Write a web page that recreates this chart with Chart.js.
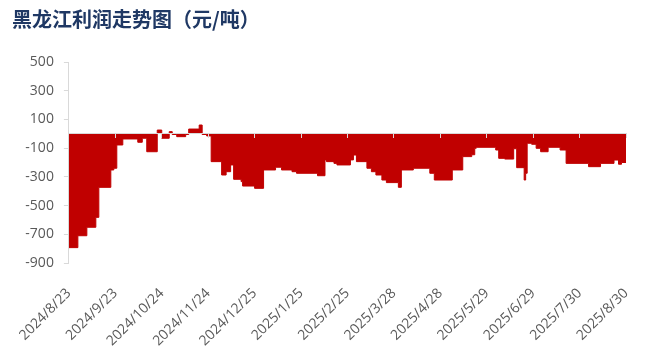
<!DOCTYPE html>
<html>
<head>
<meta charset="utf-8">
<script src="https://cdn.jsdelivr.net/npm/chart.js@4.4.1/dist/chart.umd.min.js"></script>
<style>
  html, body { margin: 0; padding: 0; background: #fff; }
</style>
</head>
<body>
<canvas id="profitChart" width="660" height="355"></canvas>
<script>
// date tick labels, one every 31 days starting 2024/8/23
const tickDates = ['2024/8/23', '2024/9/23', '2024/10/24', '2024/11/24', '2024/12/25', '2025/1/25',
    '2025/2/25', '2025/3/28', '2025/4/28', '2025/5/29', '2025/6/29', '2025/7/30', '2025/8/30'];

// day (counted from 2024/8/23) on which the profit changes, and the new value (元/吨)
const changeDay = [0, 6, 12, 18, 20, 28, 30, 32, 36, 46,
    49, 52, 59, 62, 67, 69, 72, 78, 80, 87,
    89, 92, 95, 102, 105, 108, 110, 115, 116, 124,
    130, 138, 142, 149, 152, 166, 171, 172, 177, 179,
    188, 190, 192, 199, 202, 205, 209, 212, 220, 222,
    230, 241, 244, 256, 263, 269, 271, 272, 285, 287,
    291, 297, 299, 304, 305, 306, 309, 312, 315, 320,
    328, 332, 347, 355, 364, 367, 369, 372];
const profit = [-793, -710, -651, -582, -373, -252, -240, -78, -36, -59,
    -31, -125, 26, -31, 15, -5, -20, -5, 33, 61,
    -5, -15, -194, -287, -264, -217, -317, -333, -364, -380,
    -252, -233, -252, -264, -275, -292, -182, -194, -206, -217,
    -182, -148, -194, -240, -264, -287, -322, -340, -373, -252,
    -240, -275, -322, -252, -159, -146, -101, -94, -113, -171,
    -176, -104, -236, -322, -275, -66, -73, -101, -125, -94,
    -113, -206, -229, -206, -183, -212, -200, -200];

const points = changeDay.map((d, i) => ({ x: d, y: profit[i] }));

const axisGray = '#d9d9d9';
const labelGray = '#595959';
const tickFont = { family: '"Open Sans", sans-serif', size: 14 };

const ctx = document.getElementById('profitChart').getContext('2d');
const profitChart = new Chart(ctx, {
    type: 'line',
    data: {
        datasets: [{
            data: points,
            xAxisID: 'x',
            stepped: true,
            fill: 'origin',
            backgroundColor: '#C00000',
            borderColor: '#C00000',
            borderWidth: 1,
            pointRadius: 0,
        }]
    },
    options: {
        responsive: false,
        animation: false,
        layout: { padding: { left: 12, right: 34, top: 0, bottom: 0 } },
        plugins: {
            legend: { display: false },
            tooltip: { enabled: false },
            title: {
                display: true,
                text: '黑龙江利润走势图（元/吨）',
                align: 'start',
                color: '#1f3864',
                font: { family: '"Noto Sans CJK SC"', size: 20, weight: 'bold' },
                padding: { top: 7, bottom: 31 },
            },
        },
        scales: {
            x: {
                type: 'linear',
                position: 'bottom',
                min: 0,
                max: 372,
                grid: { display: false, drawTicks: false },
                border: { display: false },
                ticks: {
                    stepSize: 31,
                    autoSkip: false,
                    minRotation: 45,
                    maxRotation: 45,
                    padding: 22,
                    color: labelGray,
                    font: tickFont,
                    callback: v => tickDates[Math.round(v / 31)],
                },
                afterFit: s => { s.height = 92; },
            },
            // zero line with its tick marks, drawn over the bars
            x0: {
                type: 'linear',
                axis: 'x',
                position: { y: 0 },
                min: 0,
                max: 372,
                ticks: { display: false, stepSize: 31 },
                grid: { drawOnChartArea: false, drawTicks: true, tickLength: 4, color: axisGray, z: 1 },
                border: { color: axisGray, z: 1 },
            },
            y: {
                min: -900,
                max: 500,
                ticks: { stepSize: 200, padding: 10, color: labelGray, font: tickFont },
                grid: { drawOnChartArea: false, tickLength: 5, color: axisGray },
                border: { color: axisGray },
                afterFit: s => { s.width = 56; },
            },
        }
    }
});
</script>
</body>
</html>
